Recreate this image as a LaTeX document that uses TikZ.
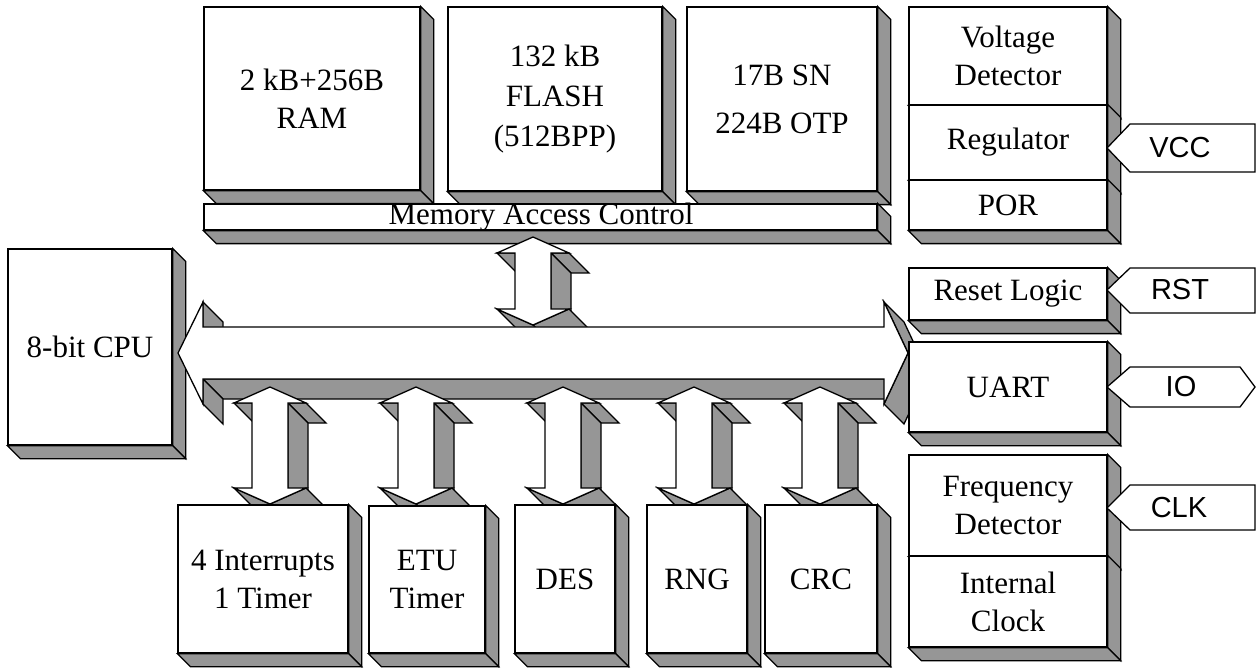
\documentclass[tikz,border=0pt]{standalone}
\usepackage{fontspec}
\setmainfont{Liberation Serif}
\newfontfamily\pinfont{Liberation Sans}

\definecolor{faceg}{RGB}{150,150,150}

% depth of block extrusion, and geometry of the block arrows
\def\dep{13}
\def\hh{36}  % half width of an arrow head
\def\bw{18}  % half width of an arrow shaft
\def\hl{16}  % length of an arrow head
\def\sd{20}  % depth of arrow extrusion

\tikzset{
  outline/.style={draw=black, line width=1.3pt, line join=miter},
  face/.style={outline, fill=faceg},
  front/.style={outline, fill=white},
  blk/.style={front, inner sep=0pt, align=center,
              font=\fontsize{31}{38}\selectfont},
  pinlabel/.style={inner sep=0pt, font=\pinfont\fontsize{29}{34}\selectfont},
  plain/.style={inner sep=0pt, font=\fontsize{31}{38}\selectfont},
}

% a raised block: name, x0, y0, x1, y1, text
\newcommand\slab[6]{%
  \node[blk, minimum width={(#4-#2)*1pt}, minimum height={(#5-#3)*1pt}]
    (#1) at ({(#2+#4)/2},{(#3+#5)/2}) {#6};
  \path[face] (#1.north east) -- ++(\dep,\dep)
    -- ([shift={(\dep,\dep)}]#1.south east) -- (#1.south east) -- cycle;
  \path[face] (#1.south west) -- (#1.south east)
    -- ([shift={(\dep,\dep)}]#1.south east)
    -- ([shift={(\dep,\dep)}]#1.south west) -- cycle;
}

% a raised vertical double arrow: centre x, top tip y, bottom tip y
\newcommand\vlink[3]{%
  \path[face] ({#1+\bw},{#2+\hl}) -- ({#1+\hh},{#2+\hl})
    -- ({#1+\hh+\sd},{#2+\hl+\sd}) -- ({#1+\bw+\sd},{#2+\hl+\sd}) -- cycle;
  \path[face] ({#1+\bw},{#2+\hl}) -- ({#1+\bw},{#3-\hl})
    -- ({#1+\bw+\sd},{#3-\hl+\sd}) -- ({#1+\bw+\sd},{#2+\hl+\sd}) -- cycle;
  \path[face] ({#1+\hh},{#3-\hl}) -- (#1,#3)
    -- ({#1+\sd},{#3+\sd}) -- ({#1+\hh+\sd},{#3-\hl+\sd}) -- cycle;
  \path[face] (#1,#3) -- ({#1-\hh},{#3-\hl})
    -- ({#1-\hh+\sd},{#3-\hl+\sd}) -- ({#1+\sd},{#3+\sd}) -- cycle;
  \path[face] ({#1-\hh},{#2+\hl}) -- ({#1-\bw},{#2+\hl})
    -- ({#1-\bw+\sd},{#2+\hl+\sd}) -- ({#1-\hh+\sd},{#2+\hl+\sd}) -- cycle;
  \path[front] (#1,#2) -- ({#1+\hh},{#2+\hl}) -- ({#1+\bw},{#2+\hl})
    -- ({#1+\bw},{#3-\hl}) -- ({#1+\hh},{#3-\hl}) -- (#1,#3)
    -- ({#1-\hh},{#3-\hl}) -- ({#1-\bw},{#3-\hl}) -- ({#1-\bw},{#2+\hl})
    -- ({#1-\hh},{#2+\hl}) -- cycle;
}

\begin{document}
\begin{tikzpicture}[x=1pt, y=-1pt]
\useasboundingbox (0,0) rectangle (1256,668);

% memory blocks
\slab{ram}{204}{7}{420}{190}{2 kB+256B\\RAM}
\slab{flash}{448}{7}{662}{191}{132 kB\\[2pt]FLASH\\[2pt](512BPP)}
\slab{otp}{687}{7}{877}{191}{17B SN\\[10pt]224B OTP}
\slab{mac}{204}{204}{877}{230}{}
\node[plain, anchor=base] (maclabel) at (541,225) {Memory Access Control};

% power management
\slab{vd}{909}{7}{1107}{105}{Voltage\\Detector}
\slab{reg}{909}{105}{1107}{180}{Regulator}
\slab{por}{909}{180}{1107}{230}{POR}

% processor
\slab{cpu}{8}{249}{172}{445}{8-bit CPU}

% memory access to bus
\vlink{533}{237}{325}

% internal bus
\path[face] (203,302) -- (203,327) -- (223,347) -- (223,322) -- cycle;
\path[face] (203,379) -- (884,379) -- (904,399) -- (223,399) -- cycle;
\path[face] (203,379) -- (203,404) -- (223,424) -- (223,399) -- cycle;
\path[face] (884,302) -- (908,353) -- (928,373) -- (904,322) -- cycle;
\path[face] (908,353) -- (884,404) -- (904,424) -- (928,373) -- cycle;
\path[front] (178,353) -- (203,302) -- (203,327) -- (884,327) -- (884,302)
  -- (908,353) -- (884,404) -- (884,379) -- (203,379) -- (203,404) -- cycle;

% peripherals on the bus
\vlink{270}{387}{504}
\vlink{416}{387}{504}
\vlink{563}{387}{504}
\vlink{694}{387}{504}
\vlink{820}{387}{504}

\slab{irq}{178}{505}{348}{653}{4 Interrupts\\1 Timer}
\slab{etu}{369}{506}{485}{653}{ETU\\Timer}
\slab{des}{515}{505}{615}{653}{DES}
\slab{rng}{647}{505}{747}{653}{RNG}
\slab{crc}{765}{505}{877}{653}{CRC}

% interface blocks
\slab{rstl}{909}{268}{1107}{320}{Reset Logic}
\slab{uart}{909}{342}{1107}{432}{UART}
\slab{fd}{909}{455}{1107}{556}{Frequency\\Detector}
\slab{ic}{909}{556}{1107}{647}{Internal\\Clock}

% external pins
\path[front] (1107,148) -- (1130,124) -- (1255,124) -- (1255,172) -- (1130,172) -- cycle;
\node[pinlabel] (vcc) at (1180,148) {VCC};
\path[front] (1107,290) -- (1130,268) -- (1255,268) -- (1255,313) -- (1130,313) -- cycle;
\node[pinlabel] (rst) at (1180,290) {RST};
\path[front] (1107,387) -- (1130,367) -- (1240,367) -- (1255,387) -- (1240,407) -- (1130,407) -- cycle;
\node[pinlabel] (io) at (1181,387) {IO};
\path[front] (1107,508) -- (1130,485) -- (1255,485) -- (1255,530) -- (1130,530) -- cycle;
\node[pinlabel] (clk) at (1179,508) {CLK};
\end{tikzpicture}
\end{document}
